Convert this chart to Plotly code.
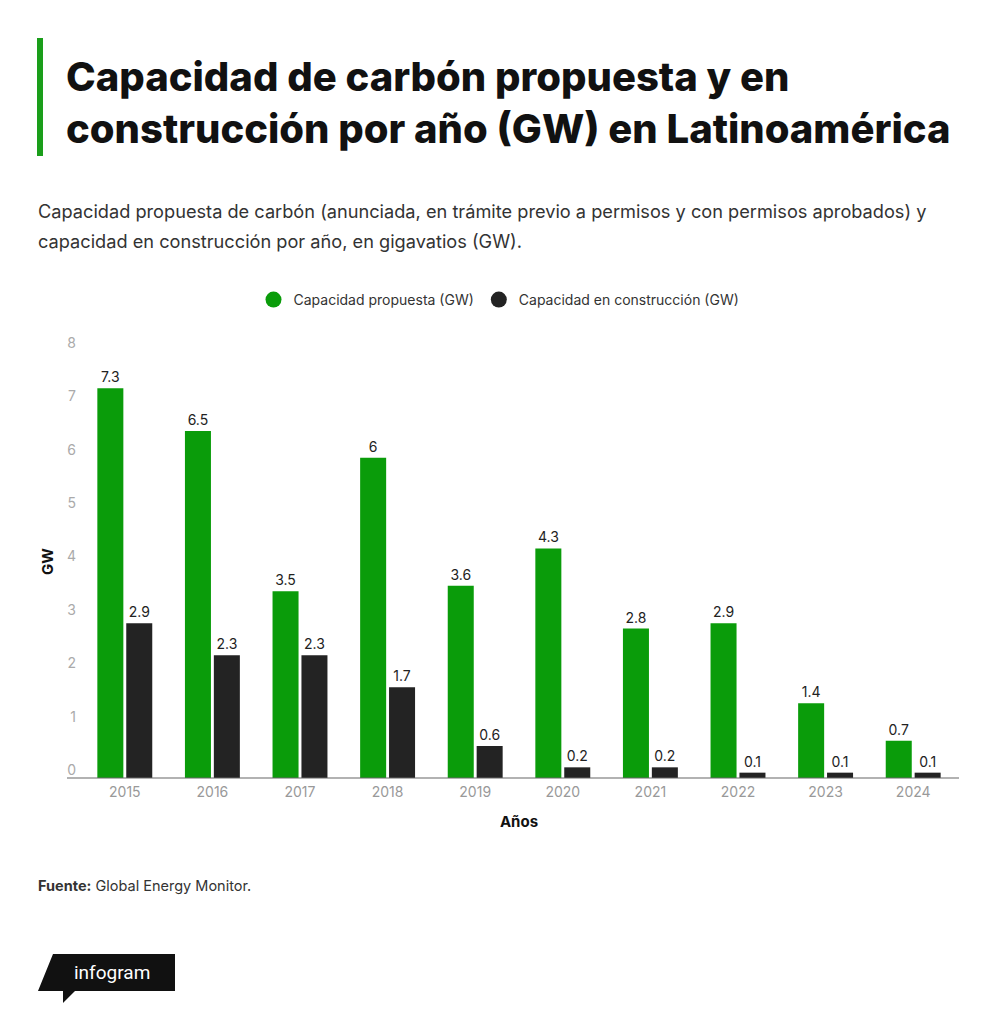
import plotly.graph_objects as go

years = ["2015", "2016", "2017", "2018", "2019", "2020", "2021", "2022", "2023", "2024"]
propuesta = [7.3, 6.5, 3.5, 6.0, 3.6, 4.3, 2.8, 2.9, 1.4, 0.7]
construccion = [2.9, 2.3, 2.3, 1.7, 0.6, 0.2, 0.2, 0.1, 0.1, 0.1]
y_ticks = [0, 1, 2, 3, 4, 5, 6, 7, 8]

name_prop = "Capacidad propuesta (GW)"
name_cons = "Capacidad en construcción (GW)"
GREEN = "#0a9c0a"
BLACK = "#232323"

OFF = 8  # page body margin
W, H = 992, 1015
# plot area in screen pixels
SX0, SX1, SY0, SY1 = 81, 957, 351, 778
L, R = SX0 - OFF, W - (SX1 - OFF)
T, B = SY0 - OFF, H - (SY1 - OFF)
PW, PH = W - L - R, H - T - B


def px(x):  # screen x -> paper
    return (x - OFF - L) / PW


def py(y):  # screen y -> paper
    return (SY1 - y) / PH


def lab(v):
    return "%g" % v


fig = go.Figure()
fig.add_trace(go.Bar(x=years, y=propuesta, name=name_prop, marker_color=GREEN,
                     marker_line_width=0,
                     text=[lab(v) for v in propuesta], textposition="outside",
                     textfont=dict(size=14, color="#222", family="Inter"),
                     cliponaxis=False, showlegend=False))
fig.add_trace(go.Bar(x=years, y=construccion, name=name_cons, marker_color=BLACK,
                     marker_line_width=0,
                     text=[lab(v) for v in construccion], textposition="outside",
                     textfont=dict(size=14, color="#222", family="Inter"),
                     cliponaxis=False, showlegend=False))
# legend entries with circle markers
fig.add_trace(go.Scatter(x=[None], y=[None], mode="markers", name=name_prop,
                         marker=dict(color=GREEN, size=16, symbol="circle")))
fig.add_trace(go.Scatter(x=[None], y=[None], mode="markers", name=name_cons,
                         marker=dict(color=BLACK, size=16, symbol="circle")))

shapes = []
# green accent bar beside title
shapes.append(dict(type="rect", xref="paper", yref="paper",
                   x0=px(37), x1=px(43), y0=py(156), y1=py(38),
                   fillcolor="#1a9e1a", line_width=0, layer="above"))
# x axis baseline
shapes.append(dict(type="line", xref="paper", yref="paper",
                   x0=px(67), x1=px(959), y0=0, y1=0,
                   line=dict(color="#666", width=1.2), layer="above"))
# infogram logo
pts = [(53, 954), (175, 954), (175, 991), (75, 991), (63, 1003), (63, 991), (38, 991)]
path = "M " + " L ".join("%f,%f" % (px(a), py(b)) for a, b in pts) + " Z"
shapes.append(dict(type="path", xref="paper", yref="paper", path=path,
                   fillcolor="#111", line_width=0, layer="above"))


def ann(text, x, y, size, color="#111", weight="normal", xanchor="left", angle=0, family="Inter"):
    return dict(text=text, xref="paper", yref="paper", x=px(x), y=py(y),
                xanchor=xanchor, yanchor="middle", align="left", showarrow=False,
                textangle=angle,
                font=dict(family=family, size=size, color=color, weight=weight))


annotations = [
    ann("Capacidad de carbón propuesta y en", 64, 76, 40, "#111", 800),
    ann("construcción por año (GW) en Latinoamérica", 64, 128, 40, "#111", 800),
    ann("Capacidad propuesta de carbón (anunciada, en trámite previo a permisos y con permisos aprobados) y",
        36, 211, 18.2, "#333"),
    ann("capacidad en construcción por año, en gigavatios (GW).", 36, 241, 18.2, "#333"),
    ann("<b>Fuente:</b> Global Energy Monitor.", 36, 886, 14.5, "#333"),
    ann("infogram", 112, 972, 19, "#ffffff", xanchor="center", family="Roboto"),
    ann("<b>GW</b>", 47, 562, 15, "#111", xanchor="center", angle=-90),
]

fig.update_layout(
    width=W, height=H,
    margin=dict(l=L, r=R, t=T, b=B, autoexpand=False),
    paper_bgcolor="white", plot_bgcolor="white",
    barmode="group", bargap=0.34, bargroupgap=0.1,
    font=dict(family="Inter", color="#333"),
    shapes=shapes, annotations=annotations,
    legend=dict(orientation="h", xref="container", yref="container",
                x=(499 - OFF) / W, xanchor="center", y=1 - (300 - OFF) / H, yanchor="middle",
                font=dict(size=14, color="#333", family="Inter"),
                itemwidth=30, traceorder="normal"),
    xaxis=dict(type="category", showgrid=False, showline=False,
               ticks="", ticklabelstandoff=4,
               tickfont=dict(size=14, color="#999", family="Inter"),
               title=dict(text="<b>Años</b>", font=dict(size=15, color="#111", family="Inter"),
                          standoff=17)),
    yaxis=dict(range=[0, 8], tickvals=y_ticks, showgrid=False, zeroline=False,
               showline=False, ticks="", ticklabelshift=-8, ticklabelstandoff=4,
               tickfont=dict(size=14, color="#aaa", family="Inter")),
)

fig.write_html("out.html")
